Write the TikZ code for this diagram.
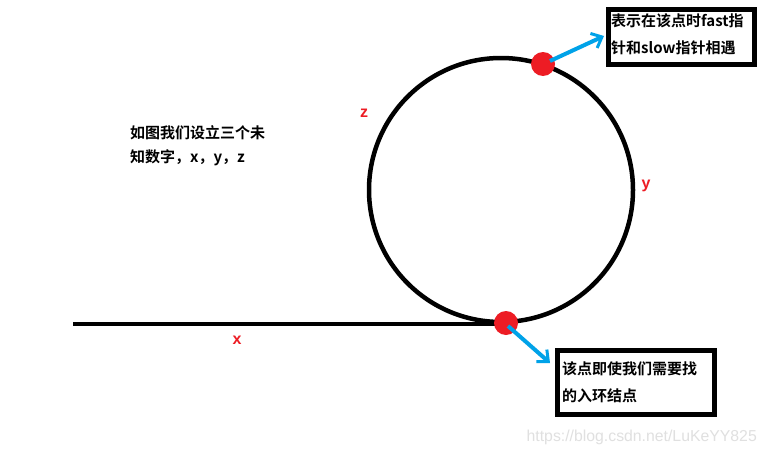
\documentclass[tikz,border=0pt]{standalone}
\usepackage{fontspec}
\setmainfont{Liberation Sans}
\newfontfamily\cjk{Noto Sans CJK SC}[BoldFont={Noto Sans CJK SC Bold}]
\newfontfamily\lblfont{Liberation Sans Bold}
\usetikzlibrary{arrows.meta}
\definecolor{dotred}{RGB}{237,28,36}
\definecolor{arrowblue}{RGB}{0,162,232}
\tikzset{
  lbl/.style={text=dotred,font=\lblfont\fontsize{16}{16}\selectfont,inner sep=0pt},
  txt/.style={font=\cjk\bfseries\fontsize{15}{27}\selectfont,align=left,inner sep=0pt,anchor=north west},
  boxed/.style={draw=black,line width=5pt,inner sep=0pt},
  bluearr/.style={draw=arrowblue,line width=4pt,-{Straight Barb[length=9pt,width=16pt,line width=3pt]}},
  dot/.style={circle,fill=dotred,minimum size=24pt,inner sep=0pt}
}
\begin{document}
\begin{tikzpicture}[x=1pt,y=-1pt]
\useasboundingbox[fill=white] (0,0) rectangle (766,455);
% circle and line
\coordinate (c) at (501,190);
\draw[line width=4.5pt] (c) circle[radius=132];
\coordinate (ls) at (73,324);
\coordinate (le) at (503,324);
\draw[line width=4.5pt] (ls) -- (le);
% dots
\node[dot] (d1) at (543,64) {};
\node[dot] (d2) at (506,323) {};
% boxes
\node[boxed,minimum width=146pt,minimum height=55pt,anchor=north west] (b1) at (606,7) {};
\node[txt] (t1) at (611,13) {表示在该点时fast指\\针和slow指针相遇};
\node[boxed,minimum width=157pt,minimum height=64pt,anchor=north west] (b2) at (555,348) {};
\node[txt] (t2) at (562,361) {该点即使我们需要找\\的入环结点};
% arrows
\coordinate (a1s) at (550,61);
\coordinate (a1e) at (604,36);
\draw[bluearr] (a1s) -- (a1e);
\coordinate (a2s) at (508,326);
\coordinate (a2e) at (550,363);
\draw[bluearr] (a2s) -- (a2e);
% labels
\node[lbl] (z) at (364,113) {z};
\node[lbl] (y) at (646,186) {y};
\node[lbl] (x) at (237,340) {x};
\node[txt,font=\cjk\bfseries\fontsize{15}{24}\selectfont] (intro) at (130,125) {如图我们设立三个未\\知数字，x，y，z};
% watermark
\node[text=black!12,font=\fontsize{15.8}{16}\selectfont,anchor=east,inner sep=0pt] (wm) at (757,437) {https://blog.csdn.net/LuKeYY825};
\end{tikzpicture}
\end{document}
